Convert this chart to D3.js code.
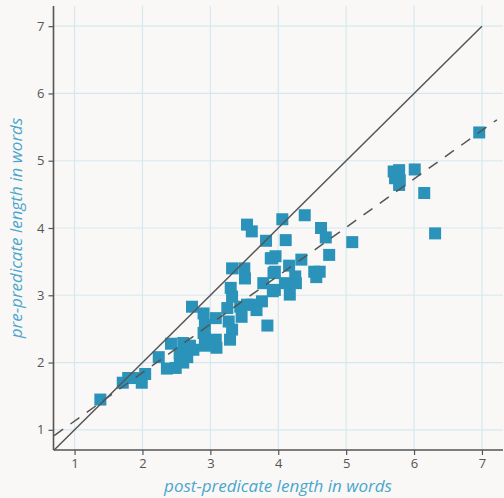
<!DOCTYPE html>
<html>
<head>
<meta charset="utf-8">
<script src="https://cdn.jsdelivr.net/npm/d3@7"></script>
<style>
  body { margin: 0; background: #f9f8f6; }
  svg { display: block; }
</style>
</head>
<body>
<div id="chart"></div>
<script>
// post-predicate length (x) and pre-predicate length (y), in words
var postLen = [1.38, 1.71, 1.79, 1.89, 1.99, 2.04, 2.24, 2.42, 2.36, 2.49, 2.60, 2.55, 2.70, 2.75, 2.92,
  2.60, 2.55, 2.66, 2.73, 2.90, 2.92, 2.90, 3.08, 3.25, 3.27, 3.32, 3.29, 3.08, 3.09, 2.92,
  3.44, 3.46, 3.61, 3.76, 3.68, 3.84, 3.32, 3.50, 3.51, 3.91, 3.93, 3.95, 3.78, 3.30, 3.32,
  3.54, 3.61, 4.06, 4.39, 4.63, 4.70, 5.09, 3.82, 4.11, 4.75, 3.89, 3.96, 4.34, 4.16, 3.95,
  4.53, 4.61, 4.56, 4.25, 4.26, 4.10, 4.17, 3.92, 3.54, 6.96, 5.70, 5.78, 5.72, 5.79, 5.78,
  6.01, 6.15, 6.31];
var preLen = [1.45, 1.70, 1.77, 1.77, 1.70, 1.83, 2.08, 2.28, 1.91, 1.92, 2.00, 2.08, 2.25, 2.19, 2.38,
  2.29, 2.14, 2.08, 2.83, 2.73, 2.56, 2.44, 2.66, 2.81, 2.61, 2.49, 2.34, 2.34, 2.22, 2.25,
  2.83, 2.68, 2.86, 2.91, 2.78, 2.55, 3.40, 3.40, 3.25, 3.55, 3.33, 3.08, 3.18, 3.11, 2.98,
  4.05, 3.95, 4.13, 4.19, 4.00, 3.86, 3.79, 3.81, 3.82, 3.60, 3.55, 3.58, 3.53, 3.44, 3.35,
  3.35, 3.35, 3.27, 3.28, 3.18, 3.18, 3.01, 3.06, 2.86, 5.42, 4.84, 4.86, 4.74, 4.71, 4.64,
  4.87, 4.52, 3.92];
var ticks = [1, 2, 3, 4, 5, 6, 7];
var fitIntercept = 0.41, fitSlope = 0.72;   // dashed regression line

var width = 504, height = 498;
var margin = {top: 6, right: 1, bottom: 48, left: 53.5};

var svg = d3.select("#chart").append("svg")
  .attr("width", width)
  .attr("height", height);

var x = d3.scaleLinear().domain([0.69, 7.31]).range([margin.left, width - margin.right]);
var y = d3.scaleLinear().domain([0.70, 7.30]).range([height - margin.bottom, margin.top]);

// grid
svg.append("g").selectAll("line")
  .data(ticks).enter().append("line")
    .attr("x1", function(d){ return x(d) }).attr("x2", function(d){ return x(d) })
    .attr("y1", y.range()[0]).attr("y2", y.range()[1])
    .attr("stroke", "#d6e8ef").attr("stroke-width", 1.2);
svg.append("g").selectAll("line")
  .data(ticks).enter().append("line")
    .attr("y1", function(d){ return y(d) }).attr("y2", function(d){ return y(d) })
    .attr("x1", x.range()[0]).attr("x2", x.range()[1])
    .attr("stroke", "#d6e8ef").attr("stroke-width", 1.2);

// points
var data = postLen.map(function(d, i){ return {x: d, y: preLen[i]} });
var s = 12;
svg.append("g").selectAll("rect")
  .data(data).enter().append("rect")
    .attr("x", function(d){ return x(d.x) - s / 2 })
    .attr("y", function(d){ return y(d.y) - s / 2 })
    .attr("width", s).attr("height", s)
    .attr("fill", "#2b93b9");

// identity line and fitted line
svg.append("line")
  .attr("x1", x(0.70)).attr("y1", y(0.70))
  .attr("x2", x(7)).attr("y2", y(7))
  .attr("stroke", "#555").attr("stroke-width", 1.5);
svg.append("line")
  .attr("x1", x(0.70)).attr("y1", y(fitIntercept + fitSlope * 0.70))
  .attr("x2", x(7.22)).attr("y2", y(fitIntercept + fitSlope * 7.22))
  .attr("stroke", "#555").attr("stroke-width", 1.5)
  .style("stroke-dasharray", "11,9");

// axes
var xAxis = svg.append("g")
  .attr("transform", "translate(0," + y.range()[0] + ")")
  .call(d3.axisBottom(x).tickValues(ticks).tickFormat(d3.format("d")).tickSize(5).tickPadding(4));
var yAxis = svg.append("g")
  .attr("transform", "translate(" + x.range()[0] + ",0)")
  .call(d3.axisLeft(y).tickValues(ticks).tickFormat(d3.format("d")).tickSize(5).tickPadding(4));
[xAxis, yAxis].forEach(function(a){
  a.select(".domain").attr("stroke", "#555").attr("stroke-width", 1.6);
  a.selectAll(".tick line").attr("stroke", "#555").attr("stroke-width", 1.2);
  a.selectAll(".tick text").attr("fill", "#555")
    .style("font-family", "'Open Sans', sans-serif").style("font-size", "13px");
});
xAxis.select(".domain").attr("d", "M" + x.range()[0] + ",0H" + x.range()[1]);
yAxis.select(".domain").attr("d", "M0," + y.range()[0] + "V" + y.range()[1]);

// axis titles
svg.append("text")
  .attr("x", 278).attr("y", 492)
  .attr("text-anchor", "middle")
  .attr("fill", "#4aa6cc")
  .style("font-family", "'Open Sans', sans-serif").style("font-style", "italic").style("font-size", "17px")
  .text("post-predicate length in words");
svg.append("text")
  .attr("transform", "translate(22,228) rotate(-90)")
  .attr("text-anchor", "middle")
  .attr("fill", "#4aa6cc")
  .style("font-family", "'Open Sans', sans-serif").style("font-style", "italic").style("font-size", "17px")
  .text("pre-predicate length in words");
</script>
</body>
</html>
